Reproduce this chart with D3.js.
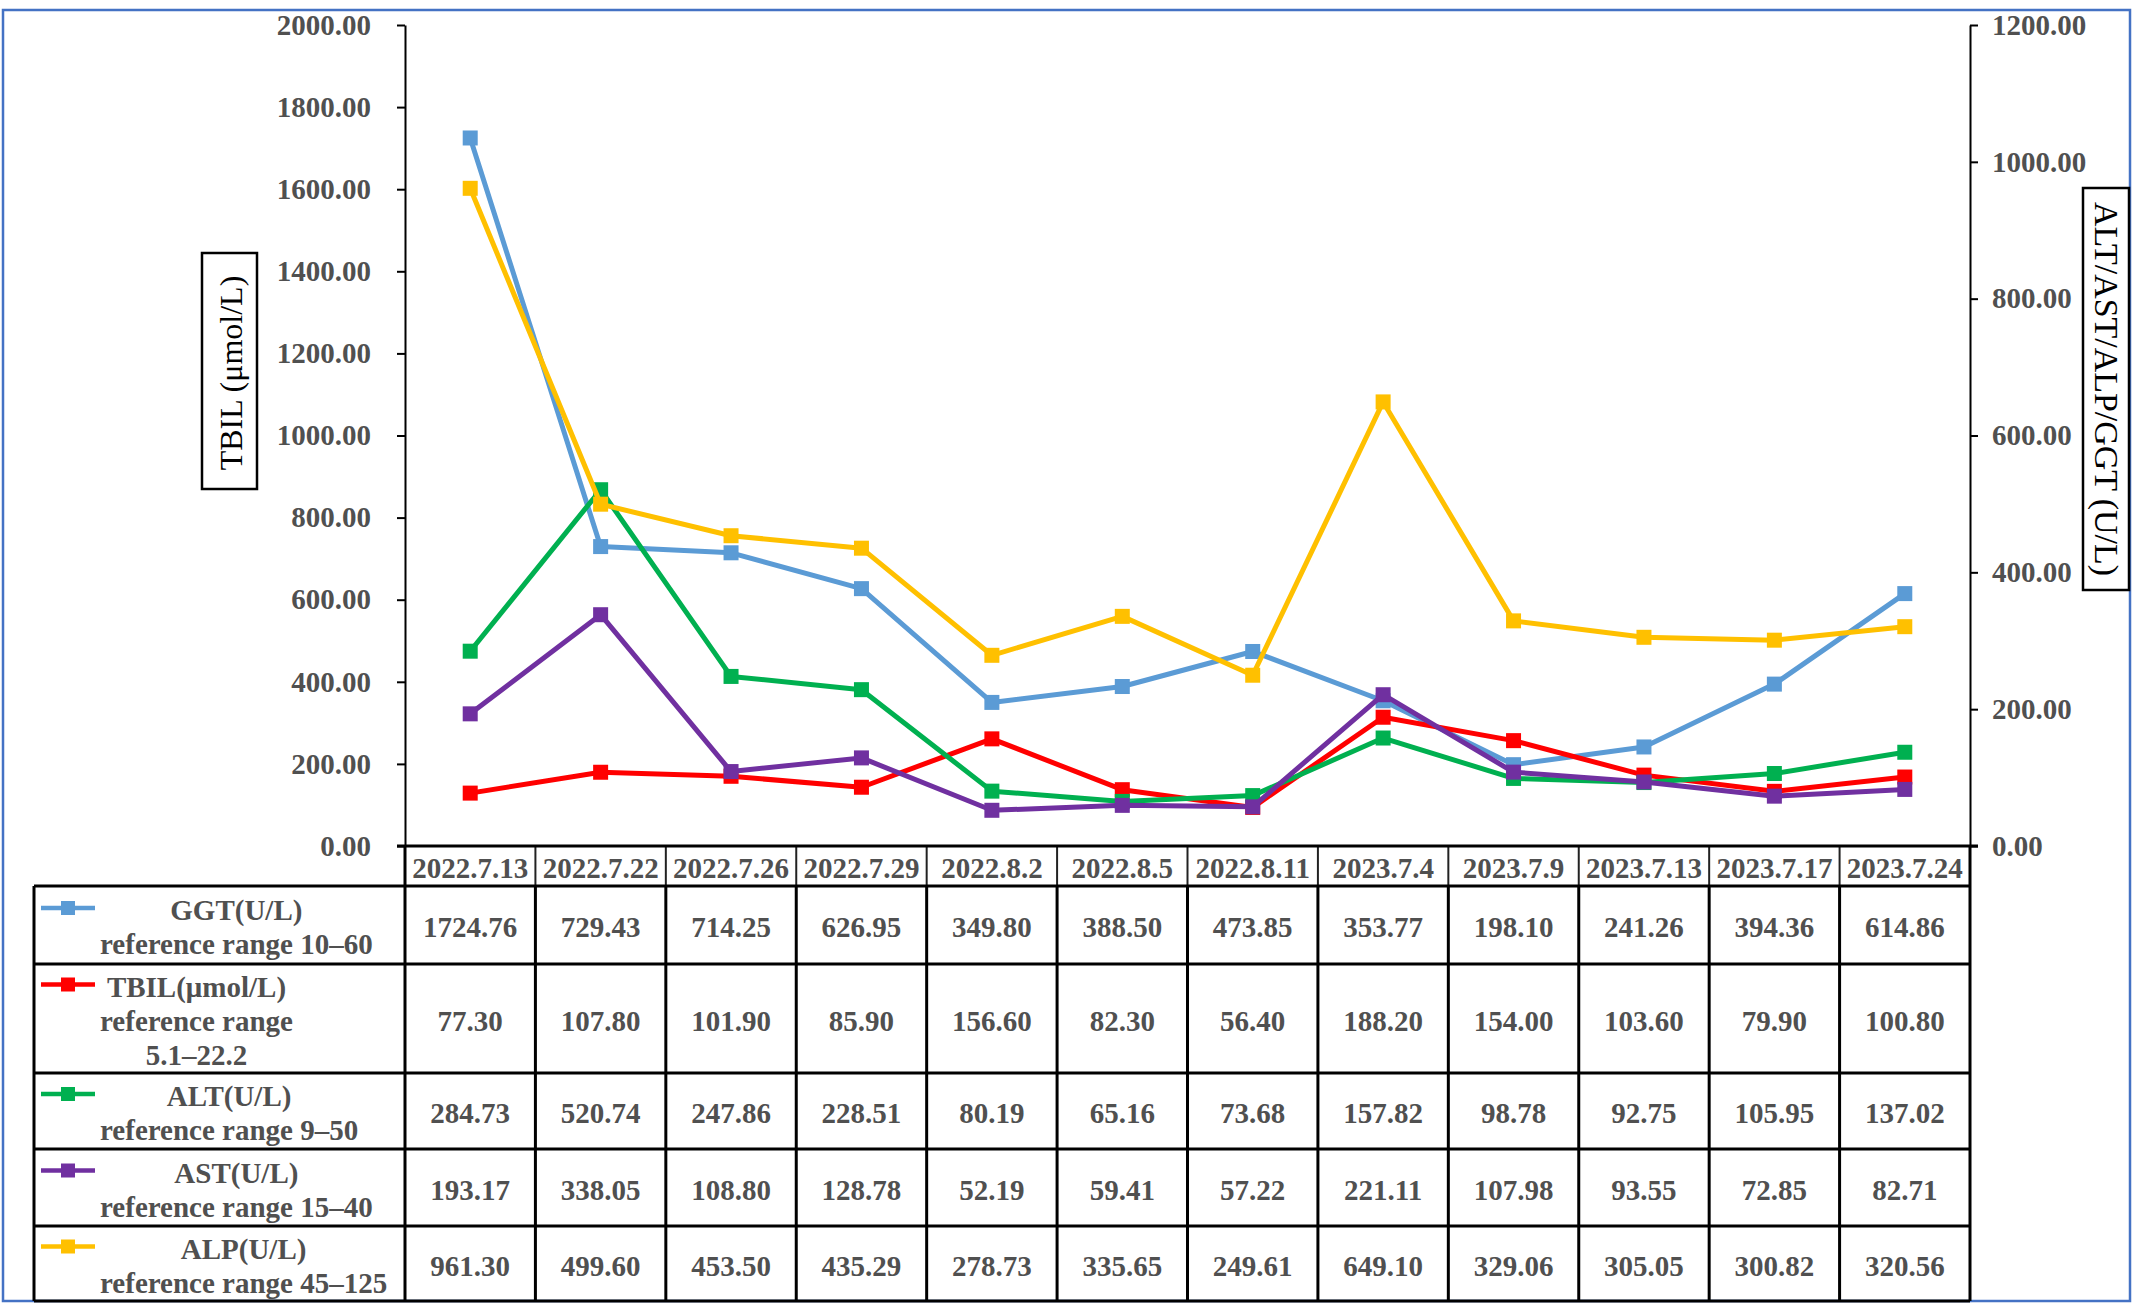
<!DOCTYPE html>
<html>
<head>
<meta charset="utf-8">
<script src="https://cdn.jsdelivr.net/npm/d3@7"></script>
<style>
  body { margin: 0; background: #fff; }
  svg { display: block; font-family: "Liberation Serif", "Times New Roman", serif; }
</style>
</head>
<body>
<svg id="chart" width="2136" height="1306"></svg>
<script>
// data
const dates = ["2022.7.13", "2022.7.22", "2022.7.26", "2022.7.29", "2022.8.2", "2022.8.5",
               "2022.8.11", "2023.7.4", "2023.7.9", "2023.7.13", "2023.7.17", "2023.7.24"];
const ggt  = [1724.76, 729.43, 714.25, 626.95, 349.80, 388.50, 473.85, 353.77, 198.10, 241.26, 394.36, 614.86];
const tbil = [77.30, 107.80, 101.90, 85.90, 156.60, 82.30, 56.40, 188.20, 154.00, 103.60, 79.90, 100.80];
const alt  = [284.73, 520.74, 247.86, 228.51, 80.19, 65.16, 73.68, 157.82, 98.78, 92.75, 105.95, 137.02];
const ast  = [193.17, 338.05, 108.80, 128.78, 52.19, 59.41, 57.22, 221.11, 107.98, 93.55, 72.85, 82.71];
const alp  = [961.30, 499.60, 453.50, 435.29, 278.73, 335.65, 249.61, 649.10, 329.06, 305.05, 300.82, 320.56];
const legendLines = [
  ["GGT(U/L)", "reference range 10–60"],
  ["TBIL(μmol/L)", "reference range", "5.1–22.2"],
  ["ALT(U/L)", "reference range 9–50"],
  ["AST(U/L)", "reference range 15–40"],
  ["ALP(U/L)", "reference range 45–125"]
];
const leftTicks = d3.range(0, 2001, 200);
const rightTicks = d3.range(0, 1201, 200);

const seriesList = [
  { name: "GGT",  values: ggt,  color: "#5B9BD5", axis: "left" },
  { name: "TBIL", values: tbil, color: "#FF0000", axis: "right" },
  { name: "ALT",  values: alt,  color: "#00B050", axis: "right" },
  { name: "AST",  values: ast,  color: "#7030A0", axis: "right" },
  { name: "ALP",  values: alp,  color: "#FFC000", axis: "right" }
];

const svg = d3.select("#chart");
const textGray = "#505050";

const plot = { left: 405, right: 1970, top: 25, bottom: 846 };
const headerBottom = 886;
const rowEdges = [886, 964, 1073, 1149, 1226, 1301];
const legendLeft = 34;

const x = d3.scaleBand().domain(dates).range([plot.left, plot.right]).padding(0);
const yL = d3.scaleLinear().domain([0, 2000]).range([plot.bottom, plot.top]);
const yR = d3.scaleLinear().domain([0, 1200]).range([plot.bottom, plot.top]);
const cx = d => x(d) + x.bandwidth() / 2;

// outer frame
svg.append("rect")
  .attr("x", 3).attr("y", 10).attr("width", 2127).attr("height", 1291)
  .attr("fill", "none").attr("stroke", "#4472C4").attr("stroke-width", 2.5);

// axes
const fmt = d3.format(".2f");
const gL = svg.append("g")
  .attr("transform", `translate(${plot.left},0)`)
  .call(d3.axisLeft(yL).tickValues(leftTicks).tickFormat(fmt).tickSizeInner(8).tickSizeOuter(0).tickPadding(26));
const gR = svg.append("g")
  .attr("transform", `translate(${plot.right},0)`)
  .call(d3.axisRight(yR).tickValues(rightTicks).tickFormat(fmt).tickSizeInner(8).tickSizeOuter(0).tickPadding(14));

[gL, gR].forEach(g => {
  g.select(".domain").attr("stroke", "#000").attr("stroke-width", 2);
  g.selectAll(".tick line").attr("stroke", "#000").attr("stroke-width", 2);
  g.selectAll(".tick text")
    .attr("fill", textGray)
    .style("font-family", "'Liberation Serif', serif")
    .style("font-size", "29px")
    .style("font-weight", "bold");
});

// axis titles in boxes
svg.append("rect").attr("x", 202).attr("y", 253).attr("width", 55).attr("height", 236)
  .attr("fill", "#fff").attr("stroke", "#000").attr("stroke-width", 2.5);
svg.append("text")
  .attr("transform", "translate(231,373) rotate(-90)")
  .attr("text-anchor", "middle").attr("dominant-baseline", "central")
  .style("font-size", "32px").attr("fill", "#000")
  .text("TBIL (μmol/L)");

svg.append("rect").attr("x", 2083).attr("y", 188).attr("width", 46).attr("height", 402)
  .attr("fill", "#fff").attr("stroke", "#000").attr("stroke-width", 2.5);
svg.append("text")
  .attr("transform", "translate(2106,389) rotate(90)")
  .attr("text-anchor", "middle").attr("dominant-baseline", "central")
  .attr("textLength", 374).attr("lengthAdjust", "spacingAndGlyphs")
  .style("font-size", "33px").attr("fill", "#000")
  .text("ALT/AST/ALP/GGT (U/L)");

// header row (category labels)
const header = svg.append("g");
header.selectAll("line.hdr")
  .data(dates.slice(1))
  .join("line")
  .attr("x1", d => x(d)).attr("x2", d => x(d))
  .attr("y1", plot.bottom).attr("y2", headerBottom)
  .attr("stroke", "#222").attr("stroke-width", 2);
header.append("line")
  .attr("x1", plot.left).attr("x2", plot.left)
  .attr("y1", plot.bottom).attr("y2", rowEdges[rowEdges.length - 1])
  .attr("stroke", "#000").attr("stroke-width", 3);
header.append("line")
  .attr("x1", plot.right).attr("x2", plot.right)
  .attr("y1", plot.bottom).attr("y2", rowEdges[rowEdges.length - 1])
  .attr("stroke", "#000").attr("stroke-width", 3);
header.selectAll("text")
  .data(dates)
  .join("text")
  .attr("x", cx)
  .attr("y", (plot.bottom + headerBottom) / 2 + 2)
  .attr("text-anchor", "middle").attr("dominant-baseline", "central")
  .attr("fill", textGray)
  .style("font-size", "29px").style("font-weight", "bold")
  .text(d => d);

// data table
const table = svg.append("g");
rowEdges.forEach(yy => {
  table.append("line")
    .attr("x1", legendLeft).attr("x2", plot.right)
    .attr("y1", yy).attr("y2", yy)
    .attr("stroke", "#000").attr("stroke-width", 3);
});
table.append("line")
  .attr("x1", legendLeft).attr("x2", legendLeft)
  .attr("y1", rowEdges[0]).attr("y2", rowEdges[rowEdges.length - 1])
  .attr("stroke", "#000").attr("stroke-width", 3);
table.selectAll("line.col")
  .data(dates.slice(1))
  .join("line")
  .attr("x1", d => x(d)).attr("x2", d => x(d))
  .attr("y1", rowEdges[0]).attr("y2", rowEdges[rowEdges.length - 1])
  .attr("stroke", "#000").attr("stroke-width", 3);

const lineGap = 34;
seriesList.forEach((s, i) => {
  const top = rowEdges[i], bot = rowEdges[i + 1];
  const mid = (top + bot) / 2;
  const lines = legendLines[i];
  const y0 = mid - (lines.length - 1) * lineGap / 2;

  // values
  table.selectAll(null)
    .data(s.values)
    .join("text")
    .attr("x", (d, j) => cx(dates[j]))
    .attr("y", mid + 2)
    .attr("text-anchor", "middle").attr("dominant-baseline", "central")
    .attr("fill", textGray)
    .style("font-size", "29px").style("font-weight", "bold")
    .text(d => fmt(d));

  // legend text block: left edge at 100, lines centred on the widest one
  const block = table.append("g");
  const texts = block.selectAll("text")
    .data(lines)
    .join("text")
    .attr("y", (d, k) => y0 + k * lineGap + 2)
    .attr("text-anchor", "middle").attr("dominant-baseline", "central")
    .attr("fill", textGray)
    .style("font-size", "29px").style("font-weight", "bold")
    .text(d => d);
  const maxW = d3.max(texts.nodes(), n => n.getComputedTextLength());
  texts.attr("x", 100 + maxW / 2);

  // legend key
  table.append("line")
    .attr("x1", 41).attr("x2", 95).attr("y1", y0).attr("y2", y0)
    .attr("stroke", s.color).attr("stroke-width", 4.5);
  table.append("rect")
    .attr("x", 61).attr("y", y0 - 7).attr("width", 14).attr("height", 14)
    .attr("fill", s.color);
});

// series lines and markers
const marks = svg.append("g");
seriesList.forEach(s => {
  const y = s.axis === "left" ? yL : yR;
  const pts = s.values.map((v, j) => [cx(dates[j]), y(v)]);
  marks.append("path")
    .attr("d", d3.line()(pts))
    .attr("fill", "none")
    .attr("stroke", s.color)
    .attr("stroke-width", 5)
    .attr("stroke-linejoin", "round");
  marks.selectAll(null)
    .data(pts)
    .join("rect")
    .attr("x", d => d[0] - 7.5).attr("y", d => d[1] - 7.5)
    .attr("width", 15).attr("height", 15)
    .attr("fill", s.color);
});

// x axis line on top
svg.append("line")
  .attr("x1", plot.left - 8).attr("x2", plot.right + 8)
  .attr("y1", plot.bottom).attr("y2", plot.bottom)
  .attr("stroke", "#000").attr("stroke-width", 3);
</script>
</body>
</html>
